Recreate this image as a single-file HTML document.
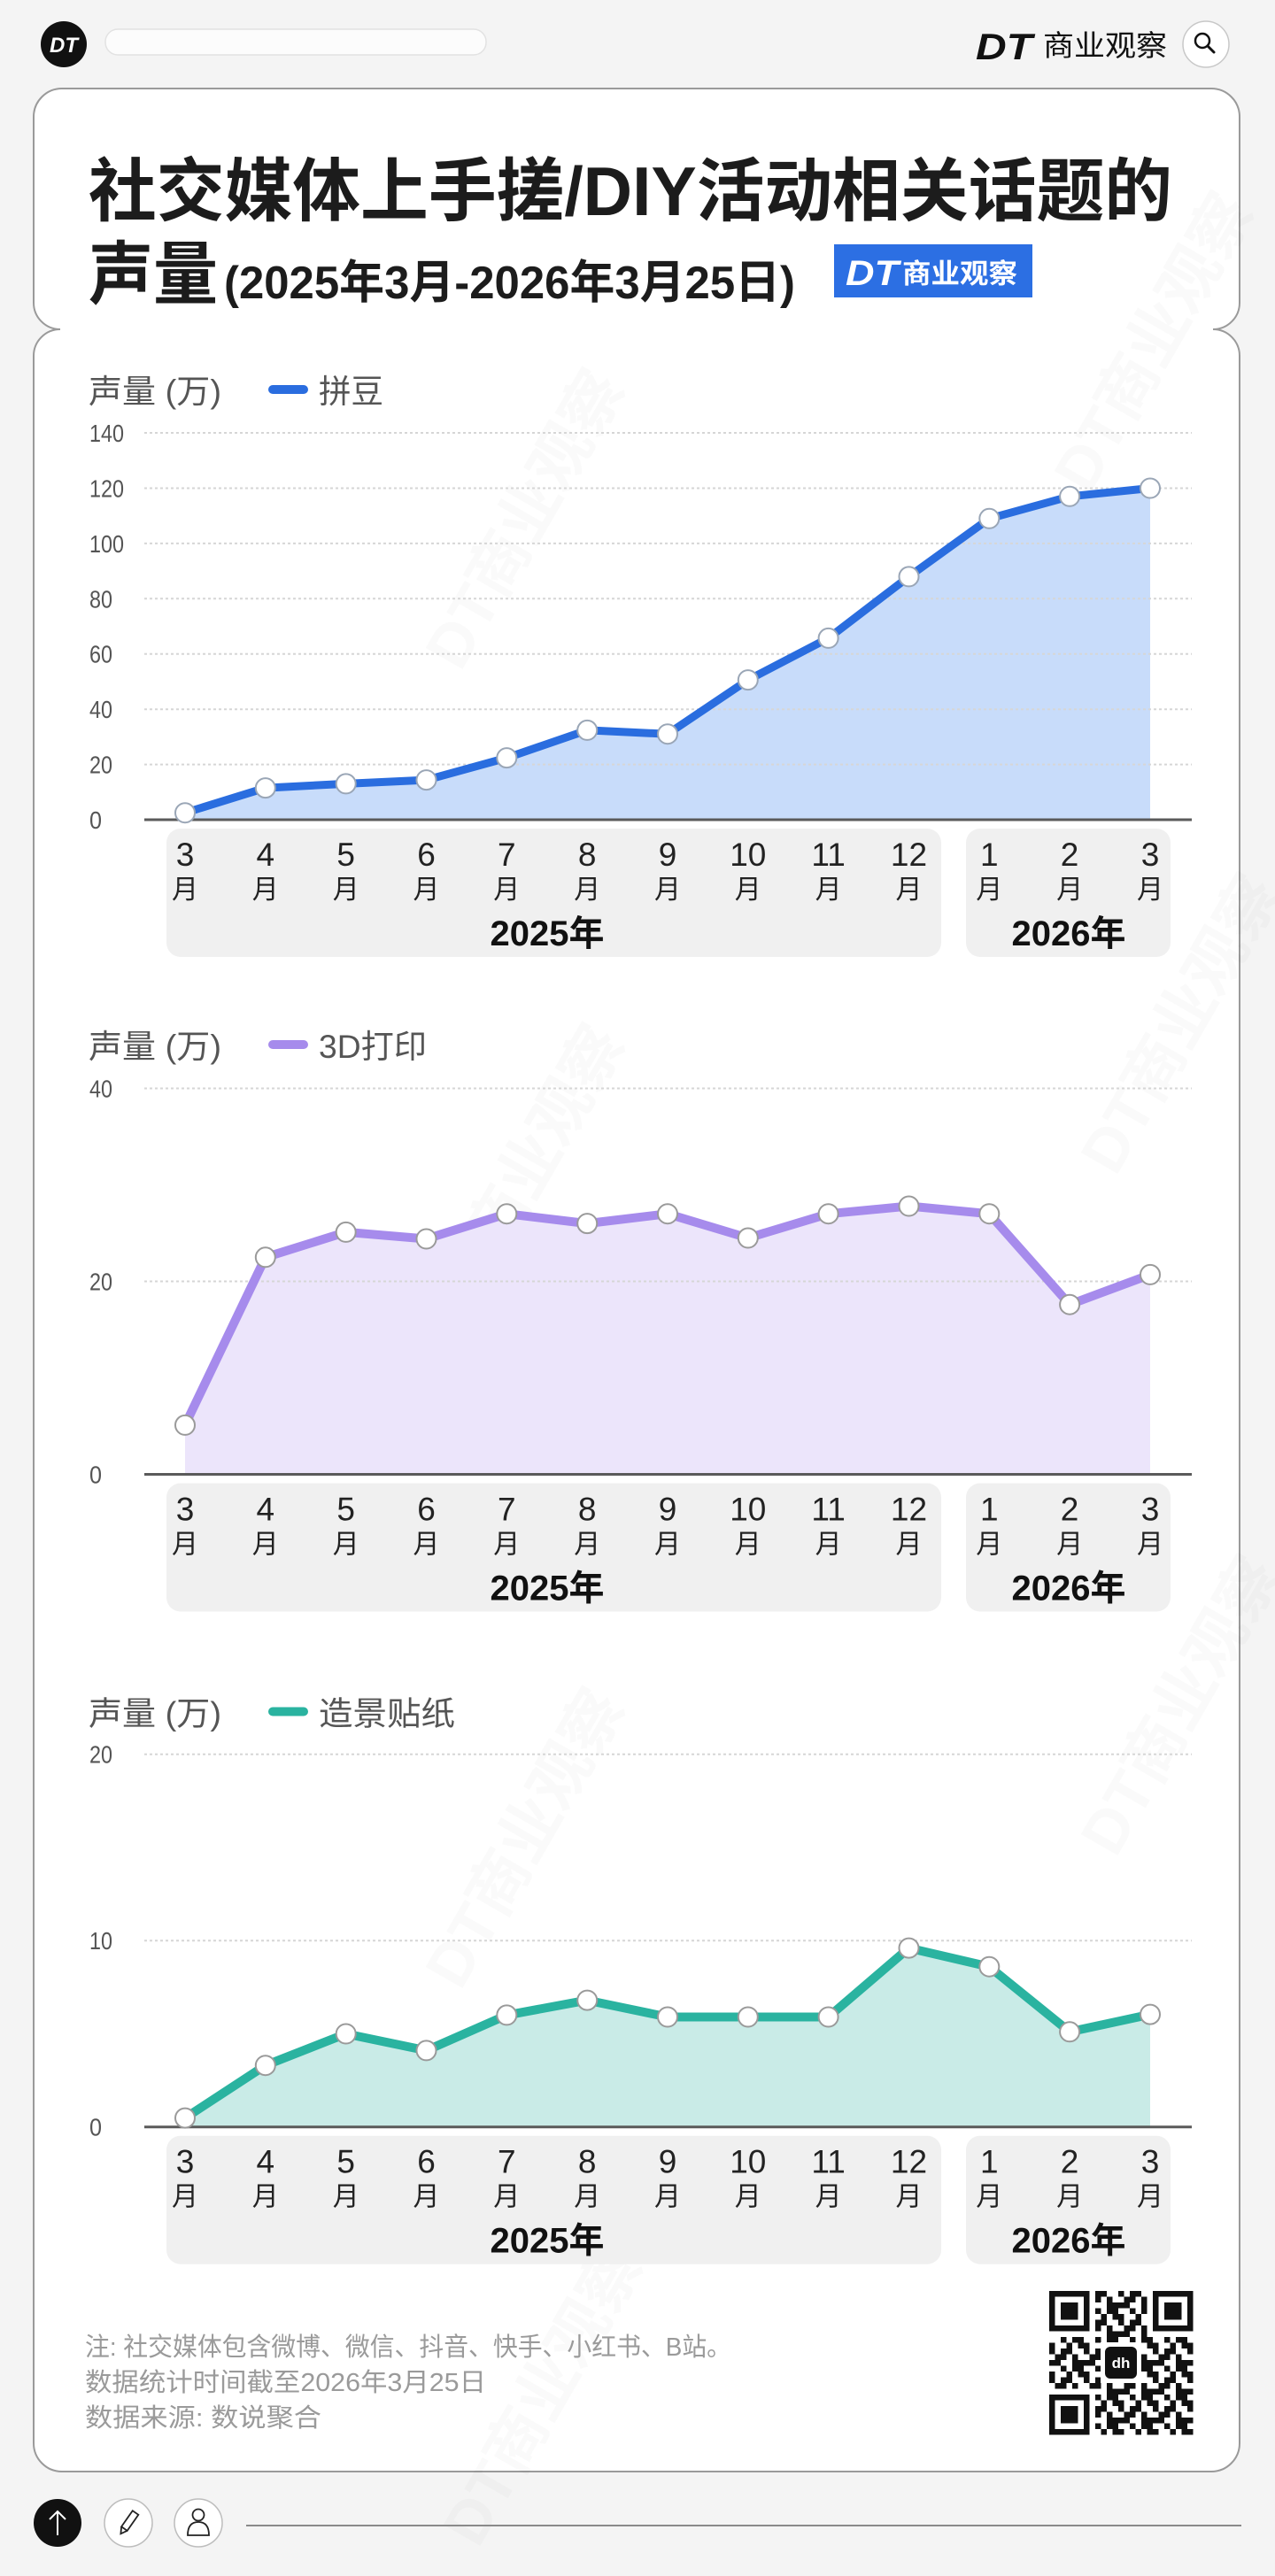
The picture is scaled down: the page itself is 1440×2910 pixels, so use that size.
<!DOCTYPE html>
<html>
<head>
<meta charset="utf-8">
<style>
html,body{margin:0;padding:0;background:#f4f4f4;}
svg{display:block;}
</style>
</head>
<body>
<svg width="1440" height="2910" viewBox="0 0 1440 2910" xmlns="http://www.w3.org/2000/svg" font-family="'Liberation Sans','Noto Sans CJK SC',sans-serif">
<defs>
<pattern id="qrp" patternUnits="userSpaceOnUse" x="1185" y="2588" width="39" height="32.5">
<rect width="39" height="32.5" fill="#fff"/>
<g fill="#111">
<rect x="0" y="0" width="6.5" height="6.5"/><rect x="13" y="0" width="13" height="6.5"/>
<rect x="6.5" y="6.5" width="13" height="6.5"/><rect x="26" y="6.5" width="6.5" height="6.5"/>
<rect x="0" y="13" width="13" height="6.5"/><rect x="26" y="13" width="13" height="6.5"/>
<rect x="13" y="19.5" width="6.5" height="6.5"/><rect x="26" y="19.5" width="13" height="6.5"/>
<rect x="0" y="26" width="6.5" height="6.5"/><rect x="19.5" y="26" width="6.5" height="6.5"/><rect x="32.5" y="26" width="6.5" height="6.5"/>
</g>
</pattern>
</defs>

<rect width="1440" height="2910" fill="#f4f4f4"/>

<!-- header -->
<circle cx="72" cy="50" r="26" fill="#111"/>
<text x="72" y="59" font-size="24" font-weight="700" font-style="italic" fill="#fff" text-anchor="middle">DT</text>
<rect x="119" y="33" width="430" height="29" rx="14" fill="#fcfcfc" stroke="#e2e2e2" stroke-width="1.5"/>
<text x="1102" y="67" font-size="42" font-weight="700" font-style="italic" fill="#111" textLength="64" lengthAdjust="spacingAndGlyphs">DT</text>
<text x="1178" y="63" font-size="33" fill="#111" textLength="140" lengthAdjust="spacingAndGlyphs">商业观察</text>
<circle cx="1362" cy="50" r="26" fill="#fff" stroke="#c8c8c8" stroke-width="1.5"/>
<circle cx="1358" cy="46" r="8" fill="none" stroke="#111" stroke-width="2.5"/>
<line x1="1364" y1="52" x2="1371" y2="59" stroke="#111" stroke-width="3" stroke-linecap="round"/>

<!-- card -->
<path d="M70,100 H1368 A32,32 0 0 1 1400,132 V342 A30,30 0 0 1 1370,372 A30,30 0 0 1 1400,402 V2760 A32,32 0 0 1 1368,2792 H70 A32,32 0 0 1 38,2760 V402 A30,30 0 0 1 68,372 A30,30 0 0 1 38,342 V132 A32,32 0 0 1 70,100 Z" fill="#fff" stroke="#9a9a9a" stroke-width="2"/>

<!-- watermarks -->
<g fill="#000" opacity="0.02" font-size="70" font-weight="700">
<text transform="translate(520,760) rotate(-60)">DT商业观察</text>
<text transform="translate(1230,560) rotate(-60)">DT商业观察</text>
<text transform="translate(520,1500) rotate(-60)">DT商业观察</text>
<text transform="translate(1260,1330) rotate(-60)">DT商业观察</text>
<text transform="translate(520,2250) rotate(-60)">DT商业观察</text>
<text transform="translate(1260,2100) rotate(-60)">DT商业观察</text>
<text transform="translate(540,2880) rotate(-60)">DT商业观察</text>
</g>

<!-- title -->
<text x="100" y="243" font-size="78" font-weight="700" fill="#1c1c1c" textLength="1224" lengthAdjust="spacingAndGlyphs">社交媒体上手搓/DIY活动相关话题的</text>
<text x="100" y="337" font-size="78" font-weight="700" fill="#1c1c1c" textLength="146" lengthAdjust="spacingAndGlyphs">声量</text>
<text x="253" y="337" font-size="52" font-weight="700" fill="#1c1c1c" textLength="645" lengthAdjust="spacingAndGlyphs">(2025年3月-2026年3月25日)</text>
<rect x="942" y="276" width="224" height="60" fill="#2c6fe3"/>
<text x="955" y="322" font-size="40" font-weight="700" font-style="italic" fill="#fff" textLength="60" lengthAdjust="spacingAndGlyphs">DT</text>
<text x="1019" y="320" font-size="31" font-weight="700" fill="#fff" textLength="130" lengthAdjust="spacingAndGlyphs">商业观察</text>

<!-- ================= CHART 1 ================= -->
<text x="100" y="455" font-size="37" fill="#555" textLength="150" lengthAdjust="spacingAndGlyphs">声量 (万)</text>
<line x1="308" y1="440" x2="343" y2="440" stroke="#2a6ddf" stroke-width="10" stroke-linecap="round"/>
<text x="360" y="455" font-size="37" fill="#555" textLength="73" lengthAdjust="spacingAndGlyphs">拼豆</text>

<polygon points="209,926 209,918.2 299.8,890.1 390.7,885.4 481.5,881.1 572.3,856.1 663.2,824.9 754,829.2 844.8,768.1 935.6,720.9 1026.5,651.4 1117.3,585.8 1208.1,560.8 1299,551.5 1299,926" fill="#c8dcfa"/>
<g stroke="#d6d6d6" stroke-width="2" stroke-dasharray="3 3">
<line x1="163" y1="489" x2="1346" y2="489"/>
<line x1="163" y1="551.5" x2="1346" y2="551.5"/>
<line x1="163" y1="613.9" x2="1346" y2="613.9"/>
<line x1="163" y1="676.3" x2="1346" y2="676.3"/>
<line x1="163" y1="738.7" x2="1346" y2="738.7"/>
<line x1="163" y1="801.2" x2="1346" y2="801.2"/>
<line x1="163" y1="863.6" x2="1346" y2="863.6"/>
</g>
<line x1="163" y1="926" x2="1346" y2="926" stroke="#5a5a5a" stroke-width="3"/>
<g font-size="28" fill="#555">
<text x="101" y="499" textLength="39" lengthAdjust="spacingAndGlyphs">140</text>
<text x="101" y="561.5" textLength="39" lengthAdjust="spacingAndGlyphs">120</text>
<text x="101" y="623.9" textLength="39" lengthAdjust="spacingAndGlyphs">100</text>
<text x="101" y="686.3" textLength="26" lengthAdjust="spacingAndGlyphs">80</text>
<text x="101" y="748.7" textLength="26" lengthAdjust="spacingAndGlyphs">60</text>
<text x="101" y="811.2" textLength="26" lengthAdjust="spacingAndGlyphs">40</text>
<text x="101" y="873.6" textLength="26" lengthAdjust="spacingAndGlyphs">20</text>
<text x="101" y="936" textLength="14" lengthAdjust="spacingAndGlyphs">0</text>
</g>
<polyline points="209,918.2 299.8,890.1 390.7,885.4 481.5,881.1 572.3,856.1 663.2,824.9 754,829.2 844.8,768.1 935.6,720.9 1026.5,651.4 1117.3,585.8 1208.1,560.8 1299,551.5" fill="none" stroke="#2a6ddf" stroke-width="9" stroke-linejoin="round" stroke-linecap="round"/>
<g fill="#fff" stroke="#9aa6b6" stroke-width="2">
<circle cx="209" cy="918.2" r="11"/><circle cx="299.8" cy="890.1" r="11"/><circle cx="390.7" cy="885.4" r="11"/><circle cx="481.5" cy="881.1" r="11"/><circle cx="572.3" cy="856.1" r="11"/><circle cx="663.2" cy="824.9" r="11"/><circle cx="754" cy="829.2" r="11"/><circle cx="844.8" cy="768.1" r="11"/><circle cx="935.6" cy="720.9" r="11"/><circle cx="1026.5" cy="651.4" r="11"/><circle cx="1117.3" cy="585.8" r="11"/><circle cx="1208.1" cy="560.8" r="11"/><circle cx="1299" cy="551.5" r="11"/>
</g>
<g transform="translate(0,926)">
<rect x="188" y="10" width="875" height="145" rx="16" fill="#f0f0f0"/>
<rect x="1091" y="10" width="231" height="145" rx="16" fill="#f0f0f0"/>
<g font-size="37" fill="#222" text-anchor="middle">
<text x="209" y="52">3</text><text x="299.8" y="52">4</text><text x="390.7" y="52">5</text><text x="481.5" y="52">6</text><text x="572.3" y="52">7</text><text x="663.2" y="52">8</text><text x="754" y="52">9</text><text x="844.8" y="52">10</text><text x="935.6" y="52">11</text><text x="1026.5" y="52">12</text><text x="1117.3" y="52">1</text><text x="1208.1" y="52">2</text><text x="1299" y="52">3</text>
</g>
<g font-size="30" fill="#222" text-anchor="middle">
<text x="209" y="89">月</text><text x="299.8" y="89">月</text><text x="390.7" y="89">月</text><text x="481.5" y="89">月</text><text x="572.3" y="89">月</text><text x="663.2" y="89">月</text><text x="754" y="89">月</text><text x="844.8" y="89">月</text><text x="935.6" y="89">月</text><text x="1026.5" y="89">月</text><text x="1117.3" y="89">月</text><text x="1208.1" y="89">月</text><text x="1299" y="89">月</text>
</g>
<g font-size="40" font-weight="700" fill="#111" text-anchor="middle">
<text x="618" y="142">2025年</text><text x="1207" y="142">2026年</text>
</g>
</g>

<!-- ================= CHART 2 ================= -->
<text x="100" y="1195" font-size="37" fill="#555" textLength="150" lengthAdjust="spacingAndGlyphs">声量 (万)</text>
<line x1="308" y1="1180" x2="343" y2="1180" stroke="#a68bec" stroke-width="10" stroke-linecap="round"/>
<text x="360" y="1195" font-size="37" fill="#555" textLength="122" lengthAdjust="spacingAndGlyphs">3D打印</text>

<polygon points="209,1665.5 209,1609.9 299.8,1420.3 390.7,1391.9 481.5,1399.5 572.3,1371.2 663.2,1382.1 754,1371.2 844.8,1398.5 935.6,1371.2 1026.5,1362.5 1117.3,1371.2 1208.1,1473.7 1299,1439.9 1299,1665.5" fill="#ece5fb"/>
<g stroke="#d6d6d6" stroke-width="2" stroke-dasharray="3 3">
<line x1="163" y1="1229.5" x2="1346" y2="1229.5"/>
<line x1="163" y1="1447.5" x2="1346" y2="1447.5"/>
</g>
<line x1="163" y1="1665.5" x2="1346" y2="1665.5" stroke="#5a5a5a" stroke-width="3"/>
<g font-size="28" fill="#555">
<text x="101" y="1239.5" textLength="26" lengthAdjust="spacingAndGlyphs">40</text>
<text x="101" y="1457.5" textLength="26" lengthAdjust="spacingAndGlyphs">20</text>
<text x="101" y="1675.5" textLength="14" lengthAdjust="spacingAndGlyphs">0</text>
</g>
<polyline points="209,1609.9 299.8,1420.3 390.7,1391.9 481.5,1399.5 572.3,1371.2 663.2,1382.1 754,1371.2 844.8,1398.5 935.6,1371.2 1026.5,1362.5 1117.3,1371.2 1208.1,1473.7 1299,1439.9" fill="none" stroke="#a68bec" stroke-width="10" stroke-linejoin="round" stroke-linecap="round"/>
<g fill="#fff" stroke="#9a9a9a" stroke-width="2">
<circle cx="209" cy="1609.9" r="11"/><circle cx="299.8" cy="1420.3" r="11"/><circle cx="390.7" cy="1391.9" r="11"/><circle cx="481.5" cy="1399.5" r="11"/><circle cx="572.3" cy="1371.2" r="11"/><circle cx="663.2" cy="1382.1" r="11"/><circle cx="754" cy="1371.2" r="11"/><circle cx="844.8" cy="1398.5" r="11"/><circle cx="935.6" cy="1371.2" r="11"/><circle cx="1026.5" cy="1362.5" r="11"/><circle cx="1117.3" cy="1371.2" r="11"/><circle cx="1208.1" cy="1473.7" r="11"/><circle cx="1299" cy="1439.9" r="11"/>
</g>
<g transform="translate(0,1665.5)">
<rect x="188" y="10" width="875" height="145" rx="16" fill="#f0f0f0"/>
<rect x="1091" y="10" width="231" height="145" rx="16" fill="#f0f0f0"/>
<g font-size="37" fill="#222" text-anchor="middle">
<text x="209" y="52">3</text><text x="299.8" y="52">4</text><text x="390.7" y="52">5</text><text x="481.5" y="52">6</text><text x="572.3" y="52">7</text><text x="663.2" y="52">8</text><text x="754" y="52">9</text><text x="844.8" y="52">10</text><text x="935.6" y="52">11</text><text x="1026.5" y="52">12</text><text x="1117.3" y="52">1</text><text x="1208.1" y="52">2</text><text x="1299" y="52">3</text>
</g>
<g font-size="30" fill="#222" text-anchor="middle">
<text x="209" y="89">月</text><text x="299.8" y="89">月</text><text x="390.7" y="89">月</text><text x="481.5" y="89">月</text><text x="572.3" y="89">月</text><text x="663.2" y="89">月</text><text x="754" y="89">月</text><text x="844.8" y="89">月</text><text x="935.6" y="89">月</text><text x="1026.5" y="89">月</text><text x="1117.3" y="89">月</text><text x="1208.1" y="89">月</text><text x="1299" y="89">月</text>
</g>
<g font-size="40" font-weight="700" fill="#111" text-anchor="middle">
<text x="618" y="142">2025年</text><text x="1207" y="142">2026年</text>
</g>
</g>

<!-- ================= CHART 3 ================= -->
<text x="100" y="1948.5" font-size="37" fill="#555" textLength="150" lengthAdjust="spacingAndGlyphs">声量 (万)</text>
<line x1="308" y1="1933.5" x2="343" y2="1933.5" stroke="#2ab3a0" stroke-width="10" stroke-linecap="round"/>
<text x="360" y="1948.5" font-size="37" fill="#555" textLength="154" lengthAdjust="spacingAndGlyphs">造景贴纸</text>

<polygon points="209,2402.7 209,2392.6 299.8,2333.2 390.7,2297.5 481.5,2316.4 572.3,2276.4 663.2,2259.6 754,2278.5 844.8,2278.5 935.6,2278.5 1026.5,2200.6 1117.3,2221.7 1208.1,2295.3 1299,2275.6 1299,2402.7" fill="#c9ebe7"/>
<g stroke="#d6d6d6" stroke-width="2" stroke-dasharray="3 3">
<line x1="163" y1="1981.7" x2="1346" y2="1981.7"/>
<line x1="163" y1="2192.2" x2="1346" y2="2192.2"/>
</g>
<line x1="163" y1="2402.7" x2="1346" y2="2402.7" stroke="#5a5a5a" stroke-width="3"/>
<g font-size="28" fill="#555">
<text x="101" y="1991.7" textLength="26" lengthAdjust="spacingAndGlyphs">20</text>
<text x="101" y="2202.2" textLength="26" lengthAdjust="spacingAndGlyphs">10</text>
<text x="101" y="2412.7" textLength="14" lengthAdjust="spacingAndGlyphs">0</text>
</g>
<polyline points="209,2392.6 299.8,2333.2 390.7,2297.5 481.5,2316.4 572.3,2276.4 663.2,2259.6 754,2278.5 844.8,2278.5 935.6,2278.5 1026.5,2200.6 1117.3,2221.7 1208.1,2295.3 1299,2275.6" fill="none" stroke="#2ab3a0" stroke-width="10" stroke-linejoin="round" stroke-linecap="round"/>
<g fill="#fff" stroke="#9a9a9a" stroke-width="2">
<circle cx="209" cy="2392.6" r="11"/><circle cx="299.8" cy="2333.2" r="11"/><circle cx="390.7" cy="2297.5" r="11"/><circle cx="481.5" cy="2316.4" r="11"/><circle cx="572.3" cy="2276.4" r="11"/><circle cx="663.2" cy="2259.6" r="11"/><circle cx="754" cy="2278.5" r="11"/><circle cx="844.8" cy="2278.5" r="11"/><circle cx="935.6" cy="2278.5" r="11"/><circle cx="1026.5" cy="2200.6" r="11"/><circle cx="1117.3" cy="2221.7" r="11"/><circle cx="1208.1" cy="2295.3" r="11"/><circle cx="1299" cy="2275.6" r="11"/>
</g>
<g transform="translate(0,2402.7)">
<rect x="188" y="10" width="875" height="145" rx="16" fill="#f0f0f0"/>
<rect x="1091" y="10" width="231" height="145" rx="16" fill="#f0f0f0"/>
<g font-size="37" fill="#222" text-anchor="middle">
<text x="209" y="52">3</text><text x="299.8" y="52">4</text><text x="390.7" y="52">5</text><text x="481.5" y="52">6</text><text x="572.3" y="52">7</text><text x="663.2" y="52">8</text><text x="754" y="52">9</text><text x="844.8" y="52">10</text><text x="935.6" y="52">11</text><text x="1026.5" y="52">12</text><text x="1117.3" y="52">1</text><text x="1208.1" y="52">2</text><text x="1299" y="52">3</text>
</g>
<g font-size="30" fill="#222" text-anchor="middle">
<text x="209" y="89">月</text><text x="299.8" y="89">月</text><text x="390.7" y="89">月</text><text x="481.5" y="89">月</text><text x="572.3" y="89">月</text><text x="663.2" y="89">月</text><text x="754" y="89">月</text><text x="844.8" y="89">月</text><text x="935.6" y="89">月</text><text x="1026.5" y="89">月</text><text x="1117.3" y="89">月</text><text x="1208.1" y="89">月</text><text x="1299" y="89">月</text>
</g>
<g font-size="40" font-weight="700" fill="#111" text-anchor="middle">
<text x="618" y="142">2025年</text><text x="1207" y="142">2026年</text>
</g>
</g>

<!-- footer notes -->
<g font-size="29" fill="#9a9a9a">
<text x="96" y="2661" textLength="730" lengthAdjust="spacingAndGlyphs">注: 社交媒体包含微博、微信、抖音、快手、小红书、B站。</text>
<text x="96" y="2701" textLength="453" lengthAdjust="spacingAndGlyphs">数据统计时间截至2026年3月25日</text>
<text x="96" y="2741" textLength="267" lengthAdjust="spacingAndGlyphs">数据来源: 数说聚合</text>
</g>

<!-- QR code -->
<rect x="1185" y="2588" width="162.5" height="162.5" fill="url(#qrp)"/>
<g>
<rect x="1185" y="2588" width="52" height="52" fill="#fff"/>
<rect x="1295.5" y="2588" width="52" height="52" fill="#fff"/>
<rect x="1185" y="2698.5" width="52" height="52" fill="#fff"/>
<rect x="1185" y="2588" width="45.5" height="45.5" fill="#111"/>
<rect x="1191.5" y="2594.5" width="32.5" height="32.5" fill="#fff"/>
<rect x="1198" y="2601" width="19.5" height="19.5" fill="#111"/>
<rect x="1302" y="2588" width="45.5" height="45.5" fill="#111"/>
<rect x="1308.5" y="2594.5" width="32.5" height="32.5" fill="#fff"/>
<rect x="1315" y="2601" width="19.5" height="19.5" fill="#111"/>
<rect x="1185" y="2705" width="45.5" height="45.5" fill="#111"/>
<rect x="1191.5" y="2711.5" width="32.5" height="32.5" fill="#fff"/>
<rect x="1198" y="2718" width="19.5" height="19.5" fill="#111"/>
<rect x="1243" y="2646" width="46" height="46" fill="#fff"/>
<rect x="1248" y="2651" width="36" height="36" rx="6" fill="#111"/>
<text x="1266" y="2675" font-size="17" font-weight="700" fill="#fff" text-anchor="middle">dh</text>
</g>

<!-- bottom toolbar -->
<circle cx="65" cy="2850" r="27" fill="#111"/>
<line x1="65" y1="2864" x2="65" y2="2837" stroke="#fff" stroke-width="2"/>
<polyline points="56,2846 65,2837 74,2846" fill="none" stroke="#fff" stroke-width="2"/>
<circle cx="145" cy="2850" r="27" fill="#fff" stroke="#bdbdbd" stroke-width="1.5"/>
<g transform="translate(145,2850) rotate(35)">
<rect x="-4" y="-14" width="8" height="22" fill="none" stroke="#222" stroke-width="1.8"/>
<polyline points="-4,8 0,15 4,8" fill="none" stroke="#222" stroke-width="1.8"/>
</g>
<circle cx="224" cy="2850" r="27" fill="#fff" stroke="#bdbdbd" stroke-width="1.5"/>
<circle cx="224" cy="2841" r="6.5" fill="none" stroke="#222" stroke-width="1.8"/>
<path d="M212,2864 Q212,2849 224,2849 Q236,2849 236,2864 Z" fill="none" stroke="#222" stroke-width="1.8"/>
<line x1="278" y1="2853" x2="1402" y2="2853" stroke="#8a8a8a" stroke-width="2"/>
</svg>
</body>
</html>
